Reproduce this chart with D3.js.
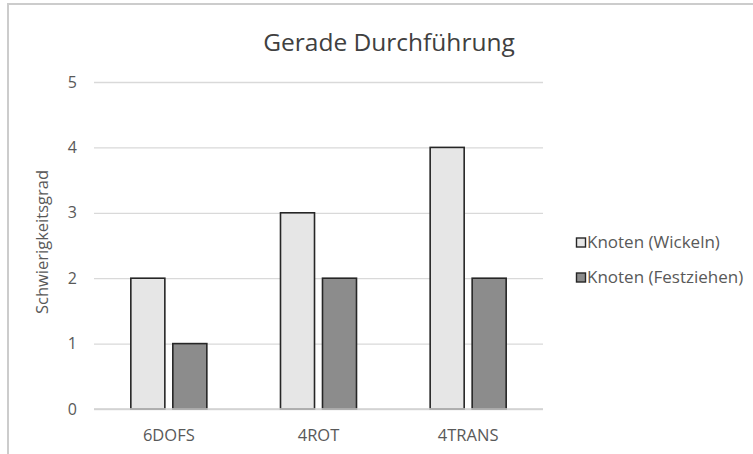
<!DOCTYPE html>
<html>
<head>
<meta charset="utf-8">
<script src="https://cdn.jsdelivr.net/npm/d3@7"></script>
<style>
  body { margin: 0; background: #fff; }
  svg text { font-family: "Open Sans", sans-serif; }
</style>
</head>
<body>
<svg id="chart" width="753" height="454"></svg>
<script>
const categories = ["6DOFS", "4ROT", "4TRANS"];
const seriesNames = ["Knoten (Wickeln)", "Knoten (Festziehen)"];
const wickeln = [2, 3, 4];
const festziehen = [1, 2, 2];
const yTicks = [0, 1, 2, 3, 4, 5];

const colors = ["#e6e6e6", "#8c8c8c"];
const textColor = "#595959";

let svg = d3.select("#chart");

// outer frame of the chart area
svg.append("rect")
  .attr("x", 8).attr("y", 4)
  .attr("width", 760).attr("height", 470)
  .attr("fill", "#fff")
  .attr("stroke", "#cccccc")
  .attr("stroke-width", 2);

let margin = { left: 94, right: 543, top: 82, bottom: 409 };

let y = d3.scaleLinear().domain([0, 5]).range([margin.bottom, margin.top]);
let x = d3.scaleBand().domain(categories).range([margin.left, margin.right]);
let inner = d3.scaleBand().domain(seriesNames)
  .range([0, x.bandwidth()]).paddingInner(0.19).paddingOuter(0.877);

// gridlines
svg.append("g")
  .attr("transform", `translate(${margin.left},0)`)
  .call(d3.axisLeft(y).tickValues(yTicks).tickSize(-(margin.right - margin.left)).tickFormat(""))
  .call(g => g.select(".domain").remove())
  .call(g => g.selectAll("line").attr("stroke", "#d9d9d9").attr("stroke-width", 1.3));

// y tick labels
svg.append("g")
  .selectAll("text")
  .data(yTicks)
  .join("text")
  .attr("x", 77)
  .attr("y", d => y(d))
  .attr("dy", "0.35em")
  .attr("text-anchor", "end")
  .attr("fill", textColor)
  .style("font-size", "16px")
  .text(d => d);

// bars
let data = categories.map((c, i) => ({ cat: c, values: [wickeln[i], festziehen[i]] }));
let groups = svg.append("g").selectAll("g")
  .data(data)
  .join("g")
  .attr("transform", d => `translate(${x(d.cat)},0)`);

groups.selectAll("rect")
  .data(d => d.values.map((v, k) => ({ name: seriesNames[k], value: v, k })))
  .join("rect")
  .attr("x", d => inner(d.name))
  .attr("width", inner.bandwidth())
  .attr("y", d => y(d.value))
  .attr("height", d => y(0) - y(d.value))
  .attr("fill", d => colors[d.k])
  .attr("stroke", "#262626")
  .attr("stroke-width", 1.6);

// x axis line
svg.append("line")
  .attr("x1", margin.left).attr("x2", margin.right)
  .attr("y1", y(0)).attr("y2", y(0))
  .attr("stroke", "#d0d0d0").attr("stroke-width", 1.3);

// category labels
svg.append("g")
  .selectAll("text")
  .data(categories)
  .join("text")
  .attr("x", d => x(d) + x.bandwidth() / 2)
  .attr("y", 441)
  .attr("text-anchor", "middle")
  .attr("fill", textColor)
  .style("font-size", "16.5px")
  .text(d => d);

// title
svg.append("text")
  .attr("x", 389).attr("y", 51)
  .attr("text-anchor", "middle")
  .attr("fill", "#404040")
  .style("font-size", "24.5px")
  .text("Gerade Durchführung");

// y axis title
svg.append("text")
  .attr("transform", "translate(48,242) rotate(-90)")
  .attr("text-anchor", "middle")
  .attr("fill", textColor)
  .style("font-size", "16.5px")
  .text("Schwierigkeitsgrad");

// legend
let legend = svg.append("g").selectAll("g")
  .data(seriesNames)
  .join("g")
  .attr("transform", (d, i) => `translate(576,${242.5 + i * 35})`);

legend.append("rect")
  .attr("x", 0.5).attr("y", -4.5)
  .attr("width", 9).attr("height", 9)
  .attr("fill", (d, i) => colors[i])
  .attr("stroke", "#262626")
  .attr("stroke-width", 1.4);

legend.append("text")
  .attr("x", 11).attr("y", 0)
  .attr("dy", "0.35em")
  .attr("fill", textColor)
  .style("font-size", "17px")
  .text(d => d);
</script>
</body>
</html>
